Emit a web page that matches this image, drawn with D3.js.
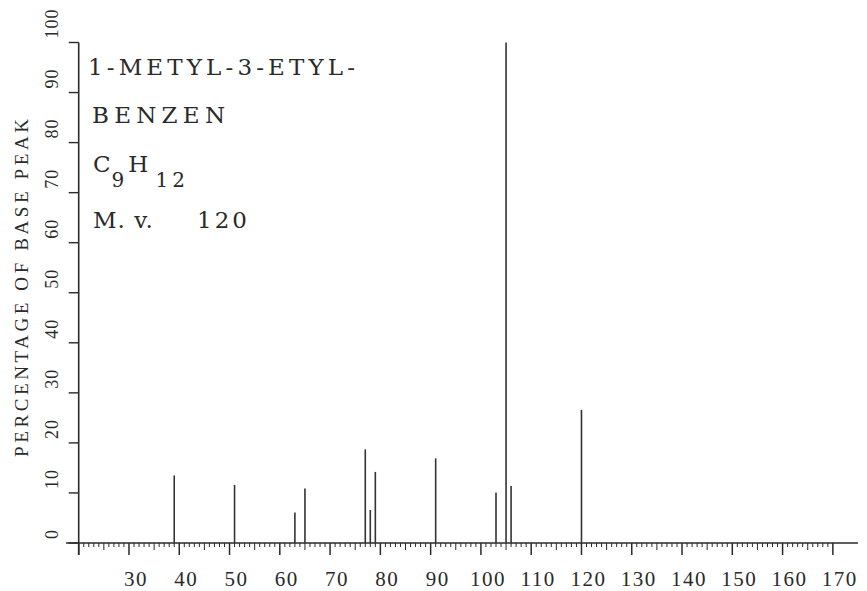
<!DOCTYPE html>
<html>
<head>
<meta charset="utf-8">
<script src="https://cdn.jsdelivr.net/npm/d3@7/dist/d3.min.js"></script>
<style>
  html, body { margin: 0; padding: 0; background: #fff; }
  svg { display: block; }
  text { font-family: "Liberation Serif", "DejaVu Serif", serif; fill: #2a2a2a; }
  .block text { font-family: "DejaVu Serif", "Liberation Serif", serif; }
</style>
</head>
<body>
<svg id="chart" width="867" height="591"></svg>
<script>
// Mass spectrum of 1-methyl-3-ethylbenzene (C9H12, M = 120)
const massToCharge = [39, 51, 63, 65, 77, 78, 79, 91, 103, 105, 106, 120];
const relIntensity = [13.5, 11.6, 6.1, 10.9, 18.7, 6.6, 14.2, 16.9, 10.1, 100, 11.4, 26.6];
const xTickLabels = [30, 40, 50, 60, 70, 80, 90, 100, 110, 120, 130, 140, 150, 160, 170];
const yTickLabels = [0, 10, 20, 30, 40, 50, 60, 70, 80, 90, 100];

const svg = d3.select("#chart");
const ink = "#2a2a2a";

const x = d3.scaleLinear().domain([20, 175]).range([78.7, 858]);
const y = d3.scaleLinear().domain([0, 100]).range([543, 42.5]);

// x axis: base line with unit ticks, longer at fives and tens
svg.append("line")
  .attr("x1", 66).attr("x2", x(175))
  .attr("y1", y(0)).attr("y2", y(0))
  .attr("stroke", ink).attr("stroke-width", 1.6);

const unitTicks = d3.range(20, 171, 1);
svg.append("g").selectAll("line").data(unitTicks).join("line")
  .attr("x1", d => x(d)).attr("x2", d => x(d))
  .attr("y1", y(0))
  .attr("y2", d => y(0) + (d % 10 === 0 ? 12 : d % 5 === 0 ? 7 : 4))
  .attr("stroke", ink)
  .attr("stroke-width", d => d % 10 === 0 ? 1.5 : 1);

svg.append("g").selectAll("text").data(xTickLabels).join("text")
  .attr("x", d => x(d) + 7)
  .attr("y", 586)
  .attr("text-anchor", "middle")
  .attr("font-size", 21)
  .attr("letter-spacing", 1.5)
  .text(d => d);

// y axis
svg.append("line")
  .attr("x1", x(20)).attr("x2", x(20))
  .attr("y1", y(100)).attr("y2", y(0) + 12)
  .attr("stroke", ink).attr("stroke-width", 1.6);

svg.append("g").selectAll("line").data(yTickLabels).join("line")
  .attr("x1", x(20) - 10).attr("x2", x(20))
  .attr("y1", d => y(d)).attr("y2", d => y(d))
  .attr("stroke", ink).attr("stroke-width", 1.4);

svg.append("g").selectAll("text").data(yTickLabels).join("text")
  .attr("transform", d => `translate(58,${y(d) - 4}) rotate(-90)`)
  .attr("text-anchor", "start")
  .attr("font-size", 18)
  .attr("letter-spacing", 1)
  .text(d => d);

svg.append("text")
  .attr("transform", "translate(28,288) rotate(-90)")
  .attr("text-anchor", "middle")
  .attr("font-size", 19)
  .attr("textLength", 338)
  .attr("lengthAdjust", "spacing")
  .text("PERCENTAGE OF BASE PEAK");

// spectrum lines
svg.append("g").selectAll("line").data(massToCharge).join("line")
  .attr("x1", d => x(d)).attr("x2", d => x(d))
  .attr("y1", y(0))
  .attr("y2", (d, i) => y(relIntensity[i]))
  .attr("stroke", "#333")
  .attr("stroke-width", 1.6);

// compound label block
const label = svg.append("g").attr("class", "block").attr("font-size", 23);
label.append("text").attr("x", 88).attr("y", 75)
  .attr("textLength", 267).attr("lengthAdjust", "spacing")
  .text("1-METYL-3-ETYL-");
label.append("text").attr("x", 92).attr("y", 123)
  .attr("textLength", 133).attr("lengthAdjust", "spacing")
  .text("BENZEN");
const formula = label.append("text").attr("x", 93).attr("y", 172);
formula.append("tspan").text("C");
formula.append("tspan").attr("font-size", 20).attr("dy", 15).attr("dx", 1).text("9");
formula.append("tspan").attr("dy", -15).attr("dx", 4).text("H");
formula.append("tspan").attr("font-size", 20).attr("dy", 15).attr("dx", 7)
  .attr("letter-spacing", 4).text("12");
const mv = label.append("text").attr("x", 93).attr("y", 228);
mv.append("tspan").attr("letter-spacing", 1).text("M. v.");
mv.append("tspan").attr("x", 197).attr("letter-spacing", 3).text("120");
</script>
</body>
</html>
